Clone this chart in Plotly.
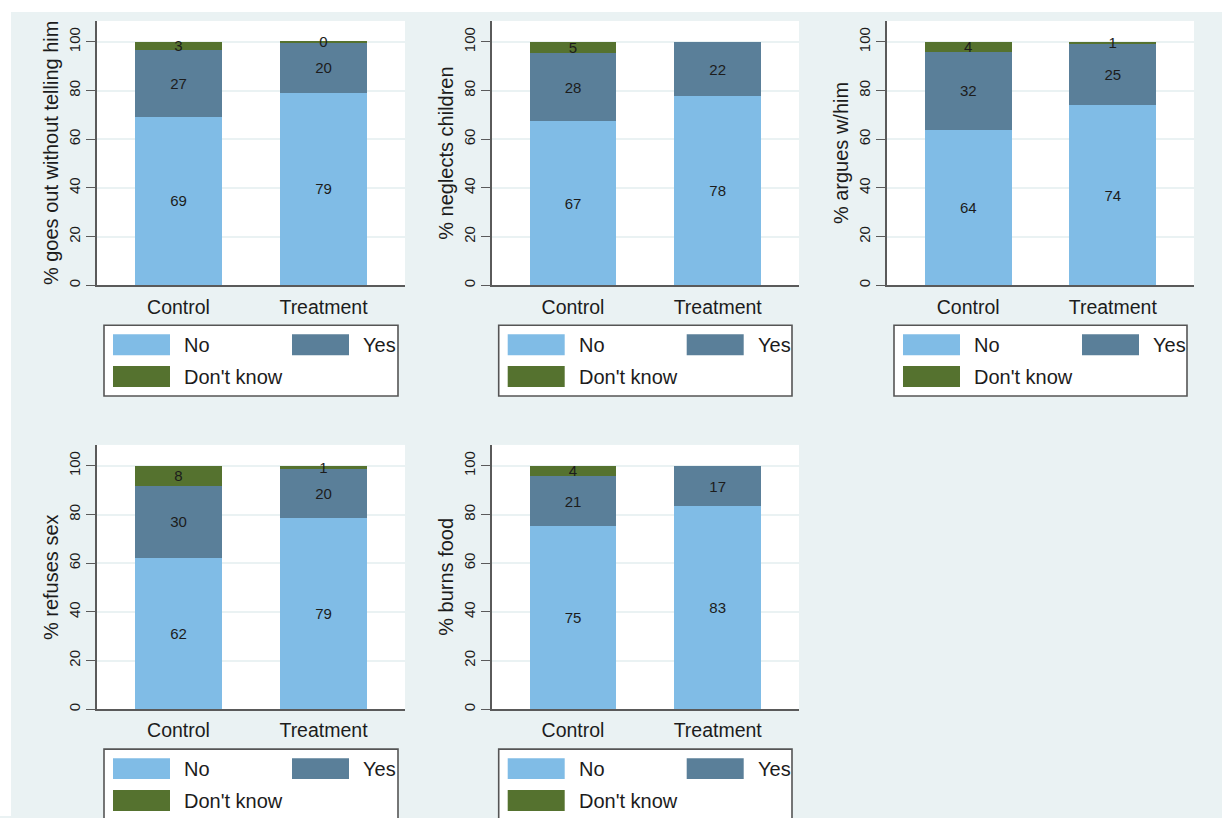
import plotly.graph_objects as go

# ---------------- data ----------------
categories = ["Control", "Treatment"]
y_titles = [
    "% goes out without telling him",
    "% neglects children",
    "% argues w/him",
    "% refuses sex",
    "% burns food",
]
no_vals = [[69.3, 79.2], [67.3, 77.6], [63.9, 74.1], [62.2, 78.6], [75.1, 83.3]]
yes_vals = [[27.4, 20.4], [28.1, 22.4], [31.9, 25.0], [29.7, 20.1], [20.9, 16.7]]
dk_vals = [[3.3, 0.4], [4.6, 0.0], [4.2, 0.9], [8.1, 1.3], [4.0, 0.0]]
series_names = ["No", "Yes", "Don't know"]
y_ticks = [0, 20, 40, 60, 80, 100]

# ---------------- style ----------------
W, H = 1222, 818
FONT = "Liberation Sans, Arial, sans-serif"
C_NO = "#80bce6"
C_YES = "#5a7f99"
C_DK = "#55722f"
BG = "#eaf2f3"
AXC = "#5a5a5a"
TXT = "#1c1c1c"

col_x = [(97, 405), (491.7, 799), (887, 1194)]
row_y = [(21, 286), (446, 711)]
panel_pos = [(0, 0), (0, 1), (0, 2), (1, 0), (1, 1)]


def fx(p):
    return p / W


def fy(p):
    return 1 - p / H


def labels(vals):
    return [("" if v == 0 else str(int(round(v)))) for v in vals]


fig = go.Figure()
shapes = []
annotations = []
layout = {}

for i, (r, c) in enumerate(panel_pos):
    k = i + 1
    xs = "" if k == 1 else str(k)
    x0, x1 = col_x[c]
    y0, y1 = row_y[r]
    for vals, name, col in [
        (no_vals[i], "No", C_NO),
        (yes_vals[i], "Yes", C_YES),
        (dk_vals[i], "Don't know", C_DK),
    ]:
        fig.add_trace(
            go.Bar(
                x=categories,
                y=vals,
                name=name,
                marker=dict(color=col, line=dict(width=0)),
                width=0.6,
                text=labels(vals),
                textposition="inside",
                insidetextanchor="middle",
                textangle=0,
                insidetextfont=dict(family=FONT, size=15, color=TXT),
                xaxis="x" + xs,
                yaxis="y" + xs,
                showlegend=False,
                hoverinfo="skip",
            )
        )
    layout["xaxis" + xs] = dict(
        domain=[fx(x0), fx(x1)],
        anchor="y" + xs,
        type="category",
        categoryorder="array",
        categoryarray=categories,
        range=[-0.562, 1.562],
        showline=True,
        linecolor=AXC,
        linewidth=1.6,
        ticks="",
        ticklabelstandoff=3,
        showgrid=False,
        zeroline=False,
        tickfont=dict(family=FONT, size=19.5, color=TXT),
        fixedrange=True,
    )
    layout["yaxis" + xs] = dict(
        domain=[fy(y1), fy(y0)],
        anchor="x" + xs,
        range=[0, 108.6],
        tickvals=y_ticks,
        tickangle=-90,
        ticks="outside",
        ticklen=9,
        tickwidth=1.4,
        tickcolor=AXC,
        showline=True,
        linecolor=AXC,
        linewidth=1.6,
        showgrid=True,
        gridcolor=BG,
        gridwidth=1.5,
        zeroline=False,
        tickfont=dict(family=FONT, size=15, color=TXT),
        fixedrange=True,
    )
    # y-axis title
    annotations.append(
        dict(
            text=y_titles[i],
            xref="paper",
            yref="paper",
            x=fx(x0 - 46),
            y=fy((y0 + y1) / 2),
            xanchor="center",
            yanchor="middle",
            textangle=-90,
            showarrow=False,
            font=dict(family=FONT, size=20, color=TXT),
        )
    )
    # legend box (drawn below each panel)
    lb_l = x0 + 7
    lb_r = x1 - 7
    lb_t = y1 + 40
    lb_b = lb_t + 71
    shapes.append(
        dict(
            type="rect", xref="paper", yref="paper",
            x0=fx(lb_l), x1=fx(lb_r), y0=fy(lb_b), y1=fy(lb_t),
            fillcolor="white", line=dict(color="#555555", width=1.6),
            layer="above",
        )
    )
    items = [
        ("No", C_NO, lb_l + 9, lb_t + 9, lb_l + 78),
        ("Yes", C_YES, lb_l + 188, lb_t + 9, lb_l + 257),
        ("Don't know", C_DK, lb_l + 9, lb_t + 41, lb_l + 78),
    ]
    for name, col, sx, sy, tx in items:
        shapes.append(
            dict(
                type="rect", xref="paper", yref="paper",
                x0=fx(sx), x1=fx(sx + 57), y0=fy(sy + 21), y1=fy(sy),
                fillcolor=col, line=dict(width=0), layer="above",
            )
        )
        annotations.append(
            dict(
                text=name, xref="paper", yref="paper",
                x=fx(tx), y=fy(sy + 10.5),
                xanchor="left", yanchor="middle",
                showarrow=False,
                font=dict(family=FONT, size=20, color=TXT),
            )
        )

# white strips (outer border of the image)
shapes.insert(0, dict(type="rect", xref="paper", yref="paper", x0=0, x1=1, y0=fy(12), y1=1,
                      fillcolor="white", line=dict(width=0), layer="below"))
shapes.insert(0, dict(type="rect", xref="paper", yref="paper", x0=0, x1=fx(11), y0=0, y1=1,
                      fillcolor="white", line=dict(width=0), layer="below"))

fig.update_layout(
    width=W,
    height=H,
    margin=dict(l=0, r=0, t=0, b=0, pad=0),
    paper_bgcolor=BG,
    plot_bgcolor="white",
    barmode="stack",
    showlegend=False,
    uniformtext=dict(minsize=15, mode="show"),
    shapes=shapes,
    annotations=annotations,
    font=dict(family=FONT, color=TXT),
    **layout,
)

fig.write_html(
    "out.html",
    config={"displayModeBar": False},
    post_script="document.body.style.margin='0';document.body.style.overflow='hidden';",
)
